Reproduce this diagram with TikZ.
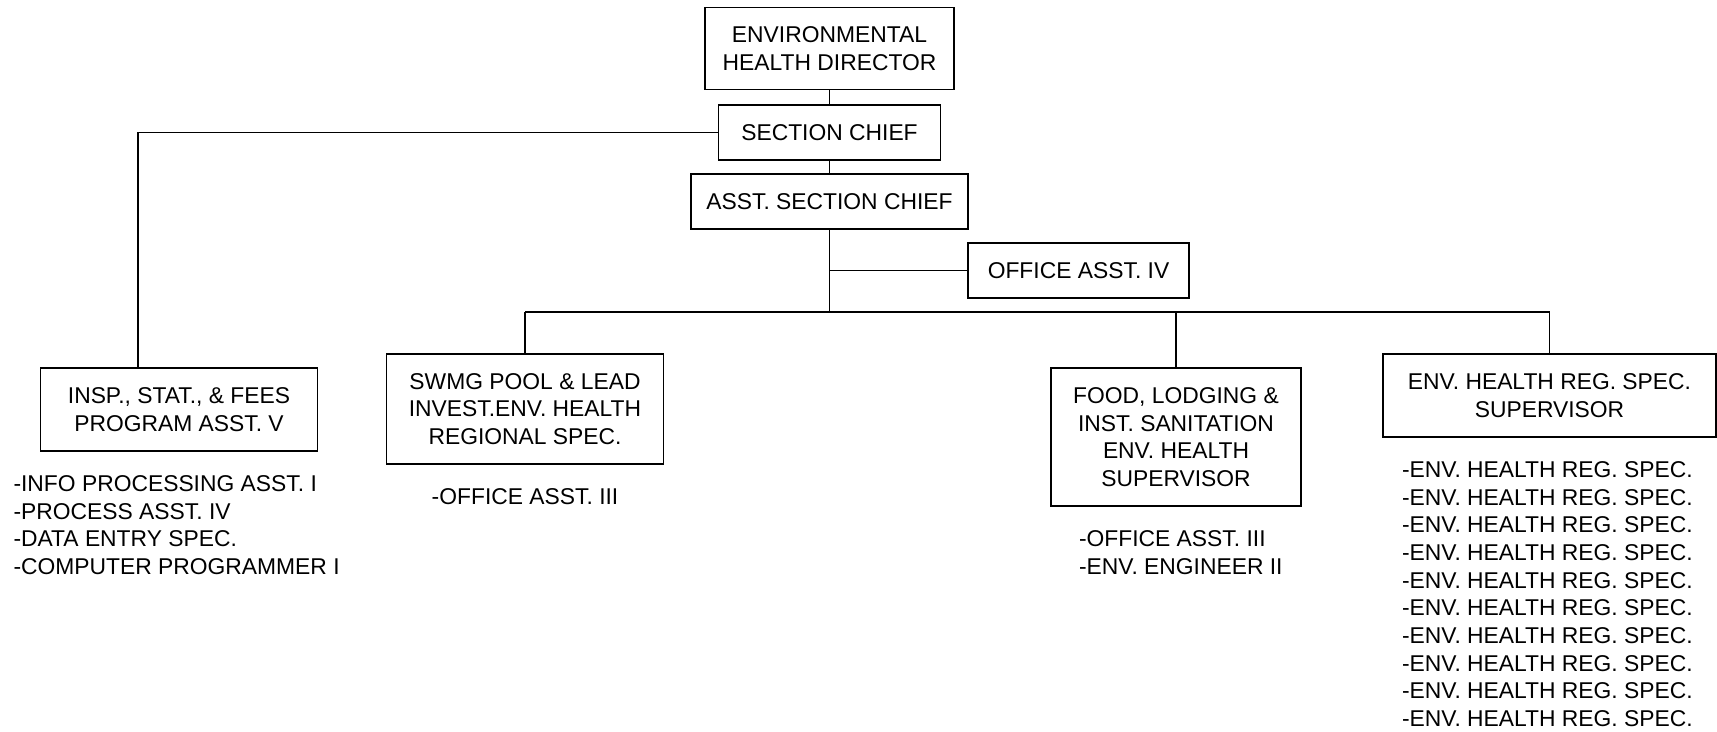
\documentclass[tikz,border=0pt]{standalone}
\usepackage{fontspec}
\setmainfont{Liberation Sans}
\tikzstyle{org_box}=[rectangle,
                     draw=black,
                     line width=0.6pt,
                     align=center,
                     inner sep=0pt,
                     text depth=0pt,
                     font=\fontsize{13}{15.7}\selectfont, ]
\tikzstyle{org_list}=[align=left,
                      inner sep=0pt,
                      font=\fontsize{13}{15.7}\selectfont, ]
\begin{document}
\begin{tikzpicture}[line width=0.6pt]
    \useasboundingbox (0cm, 0cm) rectangle (34.34cm, -14.62cm);
    % ---------------------------------------------------------------------------------------------------------
    %  Top of the chart
    \node at (16.59cm, -0.975cm) (Dir) [org_box, minimum width=4.98cm, minimum height=1.64cm] {ENVIRONMENTAL\\HEALTH DIRECTOR};
    \node at (16.59cm, -2.65cm) (SecC) [org_box, minimum width=4.44cm, minimum height=1.1cm] {SECTION CHIEF};
    \node at (16.59cm, -4.03cm) (AsstC) [org_box, minimum width=5.54cm, minimum height=1.1cm] {ASST. SECTION CHIEF};
    \node at (21.57cm, -5.41cm) (OffA) [org_box, minimum width=4.42cm, minimum height=1.1cm] {OFFICE ASST. IV};

    \draw[-] (Dir.south) -- (SecC.north);
    \draw[-] (SecC.south) -- (AsstC.north);

    % ---------------------------------------------------------------------------------------------------------
    %  Programs
    \node at (3.58cm, -8.19cm) (BoxI) [org_box, minimum width=5.54cm, minimum height=1.66cm] {INSP., STAT., \& FEES\\PROGRAM ASST. V};
    \node at (10.5cm, -8.18cm) (BoxS) [org_box, minimum width=5.54cm, minimum height=2.2cm] {SWMG POOL \& LEAD\\INVEST.ENV. HEALTH\\REGIONAL SPEC.};
    \node at (23.52cm, -8.74cm) (BoxF) [org_box, minimum width=5.0cm, minimum height=2.76cm] {FOOD, LODGING \&\\INST. SANITATION\\ENV. HEALTH\\SUPERVISOR};
    \node at (30.99cm, -7.91cm) (BoxE) [org_box, minimum width=6.66cm, minimum height=1.66cm] {ENV. HEALTH REG. SPEC.\\SUPERVISOR};

    \coordinate (bus-l) at (10.5cm, -6.24cm);
    \coordinate (bus-r) at (30.99cm, -6.24cm);
    \coordinate (insp-j) at (2.76cm, -2.65cm);

    \draw[-] (AsstC.south) -- (AsstC.south |- bus-l);
    \draw[-] (AsstC.south |- OffA.west) -- (OffA.west);
    \draw[-] (bus-l) -- (bus-r);
    \draw[-] (bus-l) -- (BoxS.north);
    \draw[-] (bus-l -| BoxF.north) -- (BoxF.north);
    \draw[-] (bus-r) -- (BoxE.north);
    \draw[-] (SecC.west) -- (insp-j) -- (insp-j |- BoxI.north);

    % ---------------------------------------------------------------------------------------------------------
    %  Staff lists
    \node at (0.26cm, -9.5cm) (ListI) [org_list, anchor=north west] {-INFO PROCESSING ASST. I\\-PROCESS ASST. IV\\-DATA ENTRY SPEC.\\-COMPUTER PROGRAMMER I};
    \node at (10.5cm, -9.76cm) (ListS) [org_list, anchor=north] {-OFFICE ASST. III};
    \node at (21.57cm, -10.6cm) (ListF) [org_list, anchor=north west] {-OFFICE ASST. III\\-ENV. ENGINEER II};
    \foreach \li in {0,...,9} {
        \node at (28.03cm, -9.22cm - 0.553cm * \li) (ListE\li) [org_list, anchor=north west] {-ENV. HEALTH REG. SPEC.};
    }
\end{tikzpicture}
\end{document}
